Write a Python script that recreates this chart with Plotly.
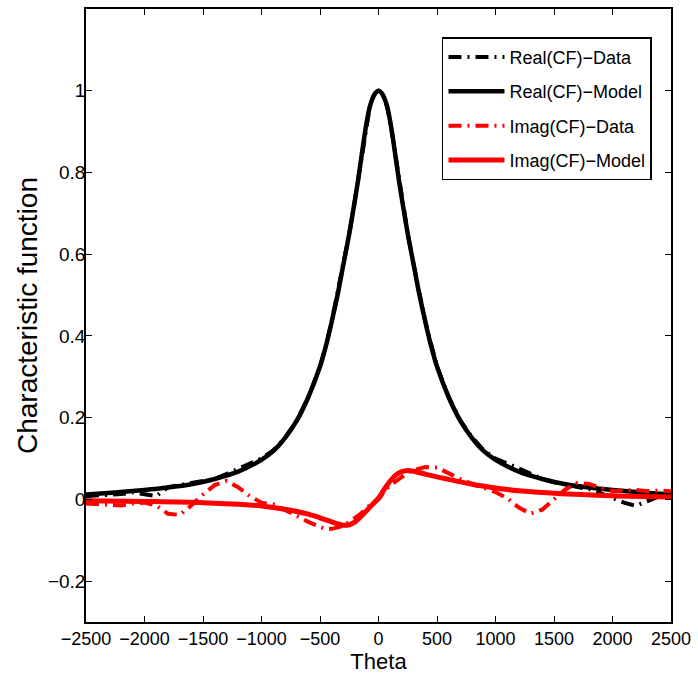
import plotly.graph_objects as go

# ---- data ----
theta_model = [-2500, -2250, -2000, -1800, -1600, -1400, -1200, -1000, -900, -800, -700, -600,
               -500, -450, -400, -350, -300, -250, -200, -175, -150, -125, -100, -75, -50, -25, 0,
               25, 50, 75, 100, 125, 150, 175, 200, 250, 300, 350, 400, 450, 500, 600, 700, 800,
               900, 1000, 1200, 1400, 1600, 1800, 2000, 2250, 2500]
real_model = [0.012, 0.017, 0.023, 0.029, 0.037, 0.050, 0.068, 0.097, 0.118, 0.150, 0.192, 0.250,
              0.325, 0.375, 0.435, 0.500, 0.575, 0.650, 0.735, 0.780, 0.830, 0.880, 0.925, 0.960, 0.982, 0.995, 1.000,
              0.995, 0.982, 0.960, 0.925, 0.880, 0.830, 0.780, 0.735, 0.650, 0.575, 0.500, 0.435, 0.375, 0.325,
              0.250, 0.192, 0.150,
              0.118, 0.097, 0.068, 0.050, 0.037, 0.029, 0.023, 0.017, 0.012]

theta_imag_model = [-2500, -2000, -1500, -1200, -1000, -800, -600, -500, -400, -350, -300, -250,
                    -200, -150, -100, -50, 0, 50, 100, 150, 200, 250, 300, 400, 500, 600, 700,
                    800, 1000, 1200, 1500, 2000, 2500]
imag_model = [-0.003, -0.005, -0.008, -0.012, -0.016, -0.024, -0.036, -0.045, -0.055, -0.060, -0.063, -0.062,
              -0.055, -0.042, -0.027, -0.012, 0.003, 0.025, 0.045, 0.060, 0.068, 0.071, 0.069, 0.062, 0.055,
              0.049, 0.043, 0.037, 0.028, 0.021, 0.015, 0.009, 0.006]

theta_data = [-2500, -2400, -2300, -2200, -2100, -2000, -1900, -1800, -1700, -1600, -1500, -1400,
              -1300, -1200, -1100, -1000, -900, -800, -700, -600, -500, -450, -400, -300, -250,
              -200, -150, -100, -75, -50, -25, 0, 25, 50, 75, 100, 150, 200, 250, 300, 400, 500, 600, 700, 800,
              900, 1000, 1100, 1200, 1300, 1400, 1500, 1600, 1700, 1800, 1900, 2000, 2100, 2200,
              2300, 2400, 2500]
real_data = [0.008, 0.009, 0.012, 0.013, 0.017, 0.012, 0.008, 0.030, 0.036, 0.040, 0.045, 0.050,
             0.062, 0.075, 0.088, 0.100, 0.120, 0.150, 0.192, 0.250, 0.325, 0.375, 0.435, 0.575, 0.650,
             0.735, 0.830, 0.925, 0.960, 0.982, 0.995, 1.000, 0.995, 0.982, 0.960, 0.925, 0.830, 0.735, 0.650, 0.575,
             0.435, 0.325, 0.250, 0.192, 0.152,
             0.120, 0.100, 0.088, 0.075, 0.062, 0.050, 0.042, 0.036, 0.030, 0.025, 0.015, 0.003, -0.008, -0.016,
             -0.005, 0.008, 0.010]
imag_data = [-0.010, -0.012, -0.013, -0.015, -0.010, -0.008, -0.015, -0.035, -0.038, -0.015, 0.012, 0.035,
             0.045, 0.030, 0.008, -0.008, -0.012, -0.025, -0.040, -0.055, -0.067, -0.073, -0.072, -0.065, -0.055,
             -0.045, -0.035, -0.020, -0.015, -0.010, -0.005, 0.000, 0.010, 0.020, 0.028, 0.035, 0.045, 0.055, 0.065, 0.072,
             0.079, 0.078, 0.063, 0.050, 0.038,
             0.028, 0.018, 0.003, -0.020, -0.035, -0.025, 0.000, 0.025, 0.040, 0.038, 0.028, 0.020, 0.022, 0.023,
             0.020, 0.022, 0.020]

x_ticks = [-2500, -2000, -1500, -1000, -500, 0, 500, 1000, 1500, 2000, 2500]
x_ticklabels = ["\u22122500", "\u22122000", "\u22121500", "\u22121000", "\u2212500", "0", "500", "1000", "1500", "2000", "2500"]
y_ticks = [-0.2, 0, 0.2, 0.4, 0.6, 0.8, 1]
y_ticklabels = ["\u22120.2", "0", "0.2", "0.4", "0.6", "0.8", "1"]

FONT = "Liberation Sans, Arial, sans-serif"
DASHDOT = "13px,6px,2px,6px"

fig = go.Figure()
fig.add_trace(go.Scatter(x=theta_data, y=real_data, mode="lines", name="Real(CF)\u2212Data",
                         legendgroup="a", line=dict(color="black", width=4, dash=DASHDOT)))
fig.add_trace(go.Scatter(x=theta_model, y=real_model, mode="lines", name="Real(CF)\u2212Model",
                         legendgroup="b", line=dict(color="black", width=4.5, shape="spline", smoothing=0.8)))
fig.add_trace(go.Scatter(x=theta_data, y=imag_data, mode="lines", name="Imag(CF)\u2212Data",
                         legendgroup="c", line=dict(color="#ff0000", width=4, dash=DASHDOT)))
fig.add_trace(go.Scatter(x=theta_imag_model, y=imag_model, mode="lines", name="Imag(CF)\u2212Model",
                         legendgroup="d", line=dict(color="#ff0000", width=5, shape="spline")))

fig.update_layout(
    width=698, height=691,
    margin=dict(l=86, r=27, t=7, b=69),
    paper_bgcolor="white", plot_bgcolor="white",
    font=dict(family=FONT, size=18, color="black"),
    showlegend=True,
    legend=dict(x=0.9675, y=0.954, xanchor="right", yanchor="top",
                bgcolor="white", bordercolor="black", borderwidth=1.5,
                font=dict(family=FONT, size=18, color="black"),
                itemwidth=56, tracegroupgap=8),
    xaxis=dict(range=[-2500, 2500], tickmode="array", tickvals=x_ticks, ticktext=x_ticklabels,
               ticks="inside", ticklen=6, tickcolor="black", showline=True, linecolor="black",
               linewidth=1.5, mirror="ticks", showgrid=False, zeroline=False,
               tickfont=dict(family=FONT, size=18),
               title=dict(text="Theta", font=dict(family=FONT, size=22), standoff=2)),
    yaxis=dict(range=[-0.3, 1.2], tickmode="array", tickvals=y_ticks, ticktext=y_ticklabels,
               ticks="inside", ticklen=6, tickcolor="black", showline=True, linecolor="black",
               linewidth=1.5, mirror="ticks", showgrid=False, zeroline=False,
               tickfont=dict(family=FONT, size=19), ticklabelstandoff=-5,
               title=dict(text="Characteristic function", font=dict(family=FONT, size=28), standoff=2)),
)

fig.write_html("out.html")
